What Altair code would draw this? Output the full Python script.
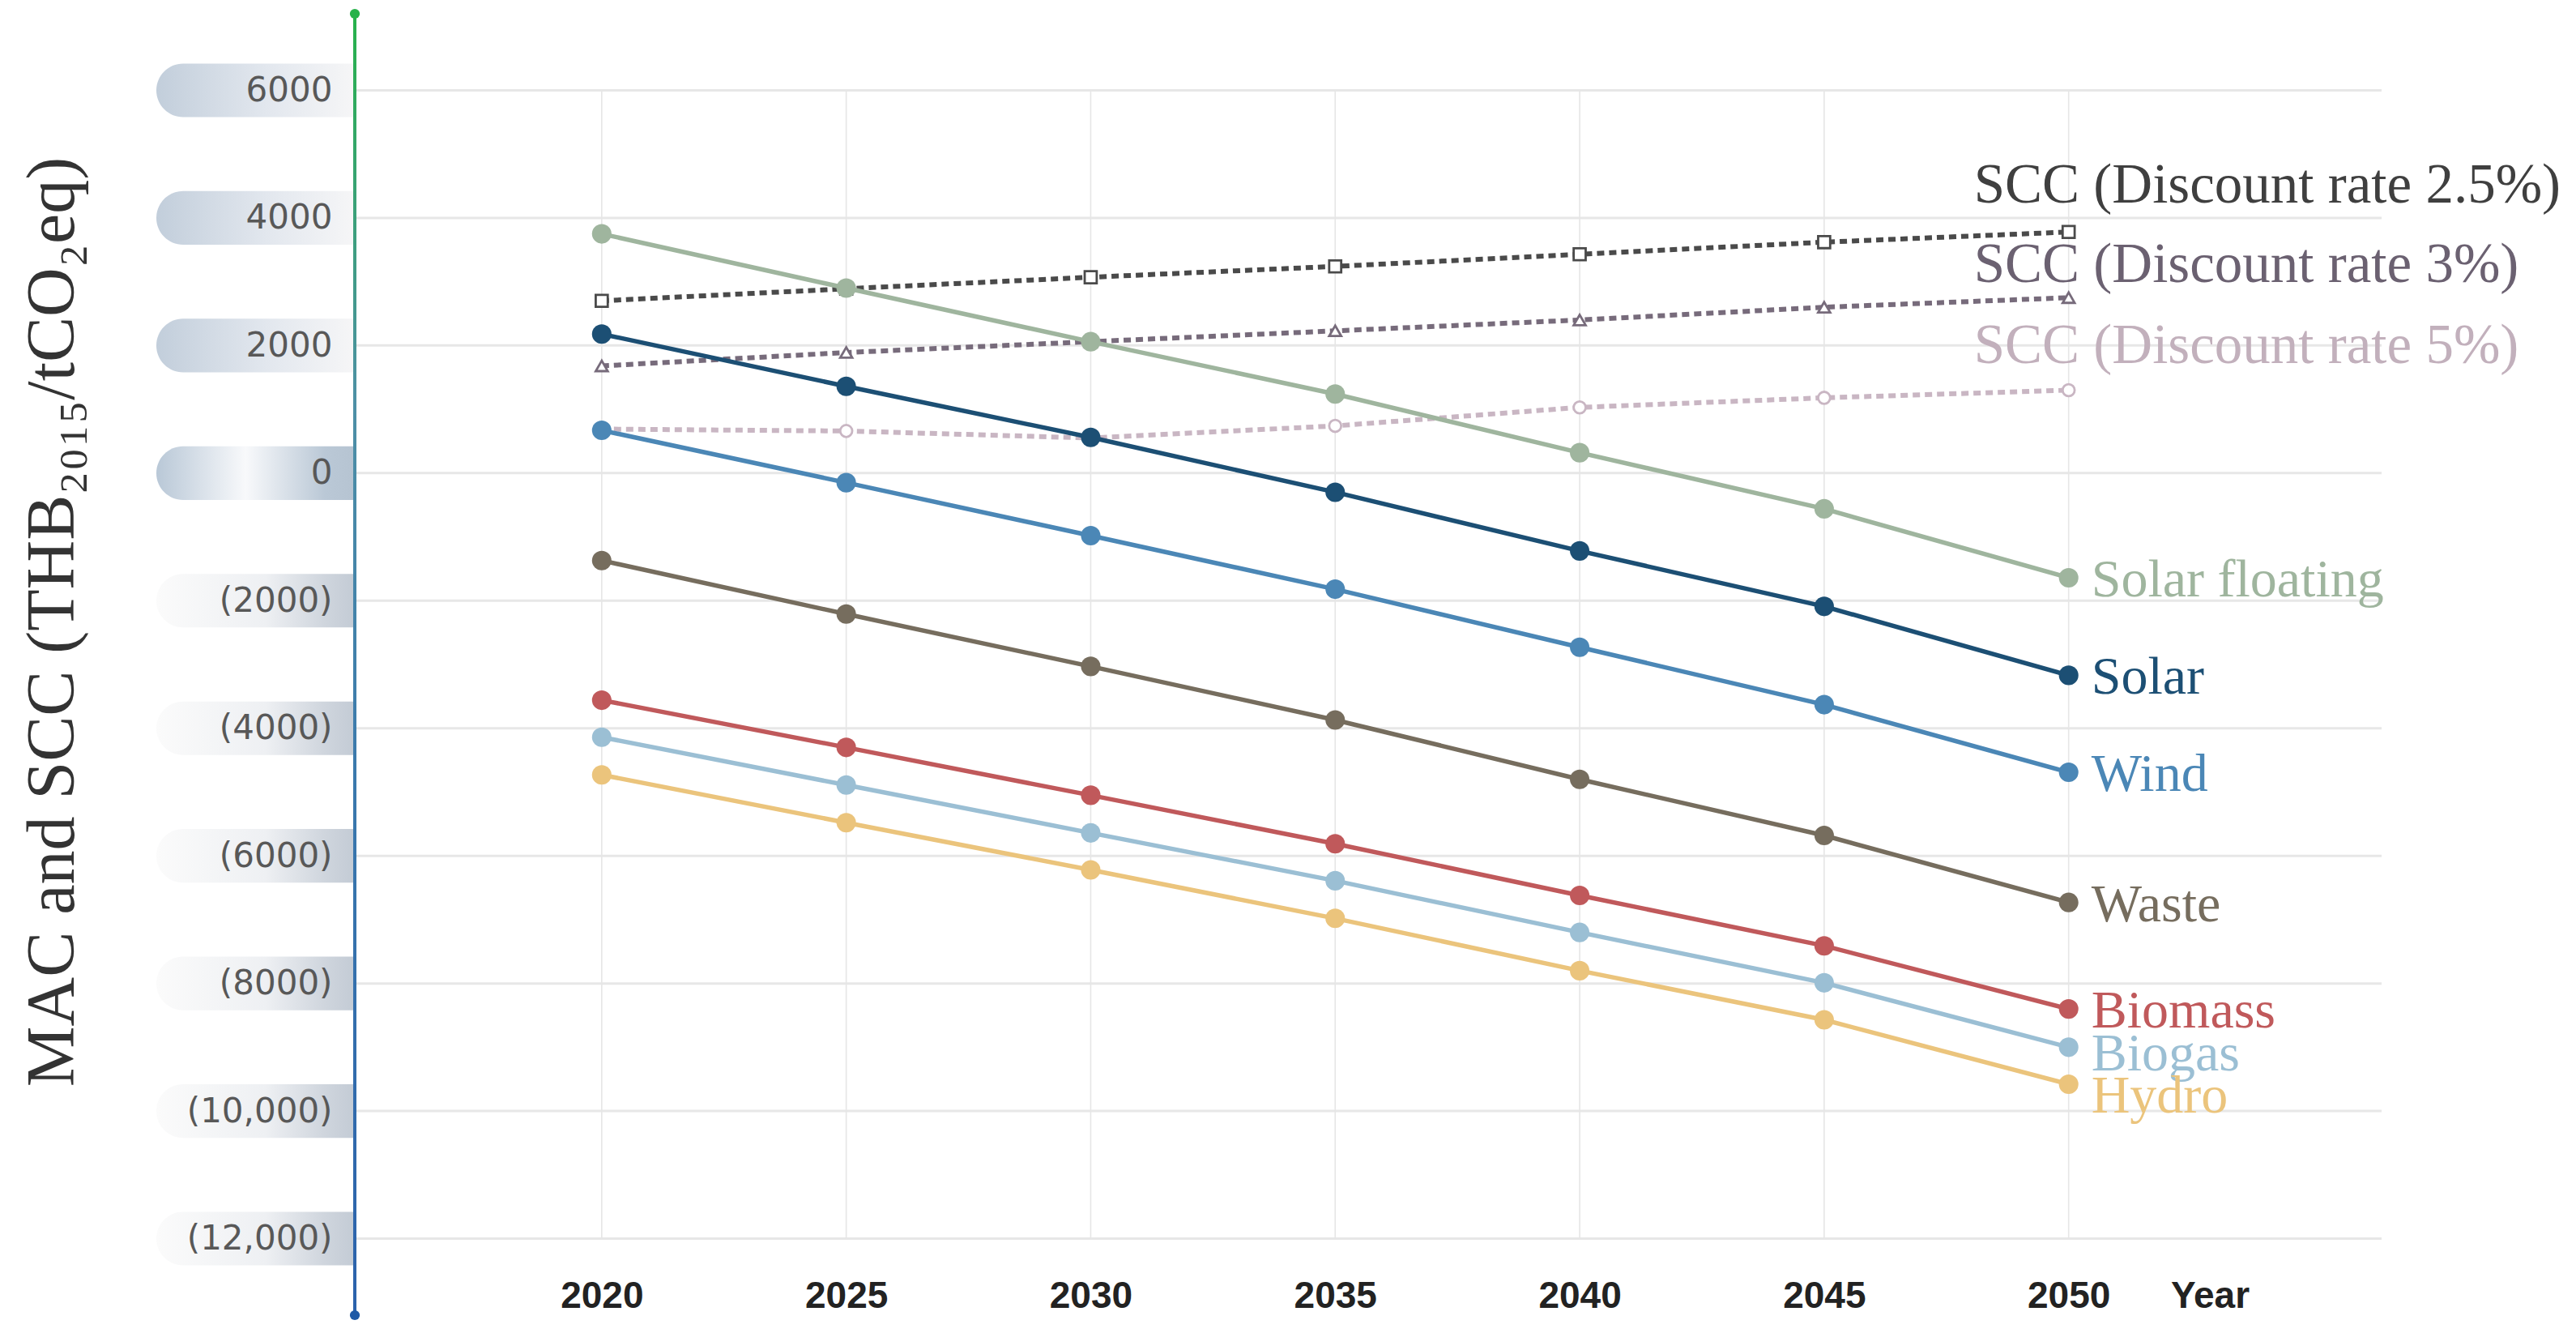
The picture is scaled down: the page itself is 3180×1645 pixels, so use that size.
import altair as alt
import pandas as pd

years = [2020, 2025, 2030, 2035, 2040, 2045, 2050]

series_names = ["Solar floating", "Solar", "Wind", "Waste", "Biomass", "Biogas", "Hydro"]
solar_floating = [3750, 2900, 2060, 1240, 320, -560, -1640]
solar = [2180, 1360, 560, -300, -1220, -2090, -3170]
wind = [670, -150, -980, -1820, -2730, -3630, -4690]
waste = [-1370, -2210, -3030, -3870, -4800, -5680, -6730]
biomass = [-3560, -4300, -5050, -5810, -6620, -7410, -8400]
biogas = [-4140, -4890, -5640, -6390, -7200, -7990, -9000]
hydro = [-4730, -5480, -6220, -6980, -7800, -8570, -9580]
series_colors = ["#9fb59e", "#1c4f74", "#4b87b6", "#766d5e", "#c0595b", "#9bbfd4", "#ebc47c"]

scc_names = ["SCC (Discount  rate 2.5%)", "SCC (Discount  rate 3%)", "SCC (Discount  rate 5%)"]
scc_25 = [2700, 2890, 3070, 3240, 3430, 3620, 3780]
scc_3 = [1680, 1890, 2060, 2230, 2400, 2600, 2750]
scc_5 = [690, 660, 550, 740, 1030, 1180, 1300]
scc_line_colors = ["#4a4a4a", "#776b7b", "#c9b6c3"]
scc_text_colors = ["#3f3f3f", "#6b6171", "#c2b0bc"]
scc_shapes = ["square", "triangle-up", "circle"]

y_ticks = [6000, 4000, 2000, 0, -2000, -4000, -6000, -8000, -10000, -12000]

W, H = 2502, 1606

rows = []
for name, vals in zip(series_names, [solar_floating, solar, wind, waste, biomass, biogas, hydro]):
    for yr, v in zip(years, vals):
        rows.append({"series": name, "year": yr, "v": v})
df = pd.DataFrame(rows)

srows = []
for name, vals in zip(scc_names, [scc_25, scc_3, scc_5]):
    for yr, v in zip(years, vals):
        srows.append({"scc": name, "year": yr, "v": v})
sdf = pd.DataFrame(srows)

last = df[df.year == years[-1]]
slast = sdf[sdf.year == years[-1]]

xscale = alt.Scale(domain=[2014.95, 2056.4], nice=False, zero=False)
yscale = alt.Scale(domain=[-13200, 7200], nice=False, zero=False)

xaxis = alt.Axis(values=years, format="d", grid=False, domain=False, ticks=False,
                 labelFont="Liberation Sans", labelFontWeight="bold", labelFontSize=46,
                 labelColor="#222222", labelBaseline="middle", labelPadding=0, offset=-24,
                 title="Year", titleFont="Liberation Sans", titleFontWeight="bold",
                 titleFontSize=46, titleColor="#222222", titleX=2290, titleY=0,
                 titleBaseline="middle", titleAlign="center")
yaxis = alt.Axis(values=y_ticks, grid=False, zindex=2,
                 domain=False, ticks=False, labelFont="DejaVu Sans", labelFontSize=42,
                 labelColor="#585858", labelPadding=28,
                 labelExpr="datum.value < 0 ? '(' + format(-datum.value, datum.value <= -10000 ? ',' : 'd') + ')' : format(datum.value, 'd')",
                 title="MAC and SCC (THB₂₀₁₅/tCO₂eq)", titleFont="Liberation Serif",
                 titleFontSize=84, titleFontWeight="normal", titleColor="#333333",
                 titleAngle=270, titleX=-373, titleY=750, titleAlign="center",
                 titleBaseline="middle")

X = alt.X("year:Q", scale=xscale, axis=xaxis)
Y = alt.Y("v:Q", scale=yscale, axis=yaxis)

# Pill backgrounds for the y tick labels
tick_df = pd.DataFrame({"v": y_ticks})
half = 420

def grad(stops):
    return alt.Gradient(gradient="linear", x1=0, x2=1, y1=0, y2=0,
                        stops=[alt.GradientStop(color=c, offset=o) for o, c in stops])

def pills(filter_expr, stops):
    return alt.Chart(tick_df).transform_filter(filter_expr).transform_calculate(
        vt="datum.v + %d" % half, vb="datum.v - %d" % half
    ).mark_rect(fill=grad(stops), cornerRadiusTopLeft=33, cornerRadiusBottomLeft=33).encode(
        x=alt.value(-245), x2=alt.value(0),
        y=alt.Y("vt:Q", scale=yscale, axis=yaxis), y2="vb:Q")

pill_pos = pills("datum.v > 0", [(0, "#c2cedb"), (0.55, "#e2e7ee"), (1, "#f6f6f7")])
pill_zero = pills("datum.v == 0", [(0, "#b9c8d7"), (0.45, "#f8f9fb"), (0.85, "#bac8d6"), (1, "#b6c4d2")])
pill_neg = pills("datum.v < 0", [(0, "#fbfbfb"), (0.55, "#eef0f3"), (0.85, "#cfd5dd"), (1, "#c3cbd5")])

# horizontal grid rules
hgrid = alt.Chart(tick_df).mark_rule(color="#e7e7e7", strokeWidth=3).encode(
    y=Y, x=alt.value(0), x2=alt.value(W))

# vertical grid rules (span the labelled range only)
vgrid_df = pd.DataFrame({"year": years, "v": [max(y_ticks)] * len(years), "v2": [min(y_ticks)] * len(years)})
vgrid = alt.Chart(vgrid_df).mark_rule(color="#e6e6e6", strokeWidth=1.6).encode(x=X, y=Y, y2="v2:Q")

# SCC lines
scc_sc = alt.Scale(domain=scc_names, range=scc_line_colors)
scc_lines = alt.Chart(sdf).mark_line(strokeWidth=6, strokeDash=[9, 6]).encode(
    x=X, y=Y, stroke=alt.Stroke("scc:N", scale=scc_sc, legend=None), detail="scc:N")
scc_pts = alt.Chart(sdf).mark_point(filled=False, fill="white", fillOpacity=1, strokeWidth=2.8, size=220, opacity=1).encode(
    x=X, y=Y, stroke=alt.Stroke("scc:N", scale=scc_sc, legend=None),
    shape=alt.Shape("scc:N", scale=alt.Scale(domain=scc_names, range=scc_shapes), legend=None))

# MAC series
ser_color = alt.Color("series:N", scale=alt.Scale(domain=series_names, range=series_colors), legend=None)
ser_lines = alt.Chart(df).mark_line(strokeWidth=5.5).encode(x=X, y=Y, color=ser_color, detail="series:N")
ser_pts = alt.Chart(df).mark_circle(size=580, opacity=1).encode(x=X, y=Y, color=ser_color)

def ser_label(names, dy):
    return alt.Chart(last).transform_filter(alt.FieldOneOfPredicate(field="series", oneOf=names)).mark_text(
        align="left", baseline="middle", dx=28, dy=dy, font="Liberation Serif", fontSize=66
    ).encode(x=X, y=Y, text="series:N", color=ser_color)

lab_main = ser_label(["Solar floating", "Solar", "Wind", "Waste", "Biomass"], 3)
lab_biogas = ser_label(["Biogas"], 9)
lab_hydro = ser_label(["Hydro"], 15)

def scc_label(i, dy):
    return alt.Chart(slast).transform_filter(alt.FieldEqualPredicate(field="scc", equal=scc_names[i])).mark_text(
        align="left", baseline="middle", dx=-117, dy=dy, font="Liberation Serif", fontSize=69,
        color=scc_text_colors[i]).encode(x=X, y=Y, text="scc:N")

scc_l1 = scc_label(0, -57)
scc_l2 = scc_label(1, -40)
scc_l3 = scc_label(2, -54)

# gradient y-axis line with end dots
one = pd.DataFrame({"k": [0]})
axis_line = alt.Chart(one).mark_rect(fill=alt.Gradient(
    gradient="linear", x1=0, x2=0, y1=0, y2=1,
    stops=[alt.GradientStop(color="#27b24a", offset=0), alt.GradientStop(color="#4e90a6", offset=0.3),
           alt.GradientStop(color="#3a78ad", offset=0.6), alt.GradientStop(color="#2b62ac", offset=1)])).encode(
    x=alt.value(-2), x2=alt.value(2), y=alt.value(0), y2=alt.value(H))
dot_top = alt.Chart(one).mark_circle(size=150, opacity=1, color="#27b24a").encode(x=alt.value(0), y=alt.value(0))
dot_bot = alt.Chart(one).mark_circle(size=150, opacity=1, color="#1f5aa6").encode(x=alt.value(0), y=alt.value(H))

chart = alt.layer(
    pill_pos, pill_zero, pill_neg, hgrid, vgrid, scc_lines, scc_pts, ser_lines, ser_pts,
    lab_main, lab_biogas, lab_hydro, scc_l1, scc_l2, scc_l3, axis_line, dot_top, dot_bot
).resolve_scale(color="independent", stroke="independent", shape="independent").properties(
    width=W, height=H, background="white",
    autosize=alt.AutoSizeParams(type="none"),
    padding={"left": 430, "top": 9, "right": 232, "bottom": 12},
).configure_view(stroke="transparent")

chart.save("out.html", embed_options={"renderer": "svg", "actions": False})
